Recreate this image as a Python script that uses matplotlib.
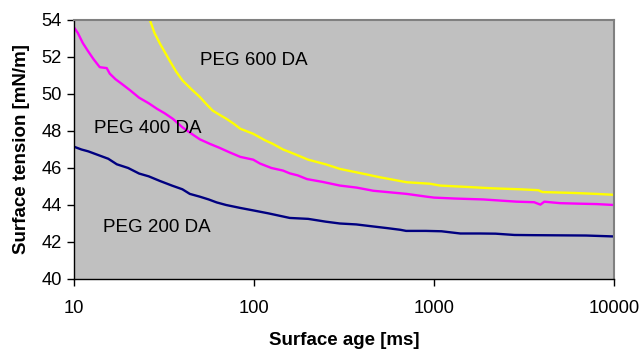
import matplotlib
matplotlib.use("Agg")
import matplotlib.pyplot as plt

plt.rcParams['font.family'] = ['Liberation Sans', 'DejaVu Sans']

# Surface age [ms] and surface tension [mN/m] for each PEG diacrylate
age_200 = [10, 11, 12, 13.9, 15.5, 17.3, 20, 23, 26, 30, 35, 40, 44, 50, 56, 62, 70,
           84, 100, 120, 158, 200, 250, 300, 370, 450, 550, 650, 700, 900, 1100,
           1400, 1800, 2200, 2800, 3500, 5000, 7000, 10000]
st_200 = [47.15, 47.0, 46.9, 46.67, 46.5, 46.2, 46.0, 45.7, 45.55, 45.3, 45.05, 44.85,
          44.6, 44.45, 44.3, 44.14, 44.0, 43.84, 43.7, 43.55, 43.3, 43.25, 43.1, 43.0,
          42.95, 42.85, 42.75, 42.66, 42.6, 42.6, 42.58, 42.46, 42.46, 42.45, 42.38,
          42.37, 42.36, 42.35, 42.3]

age_400 = [10, 10.5, 11.2, 12, 12.8, 13.9, 15.2, 15.8, 17, 18.7, 20.5, 23, 26, 28.9,
           32, 35.5, 40, 45, 50, 57, 64, 73, 84, 99, 108, 125, 145, 158, 175, 197, 240,
           300, 372, 460, 705, 910, 1000, 1300, 1880, 2880, 3600, 3900, 4100, 5000,
           6500, 8000, 10000]
st_400 = [53.6, 53.3, 52.75, 52.3, 51.9, 51.45, 51.4, 51.1, 50.8, 50.5, 50.2, 49.8,
          49.5, 49.2, 48.95, 48.65, 48.2, 47.85, 47.55, 47.3, 47.1, 46.85, 46.6, 46.45,
          46.24, 46.0, 45.86, 45.71, 45.6, 45.4, 45.25, 45.05, 44.94, 44.77, 44.6,
          44.45, 44.4, 44.35, 44.3, 44.18, 44.15, 44.02, 44.18, 44.1, 44.07, 44.05, 44.0]

age_600 = [26.4, 28, 30, 32, 34, 37, 40, 45, 50, 55, 59, 65, 70, 77, 84, 99, 115,
           127, 145, 158, 200, 250, 300, 400, 500, 705, 950, 1080, 1500, 2130, 3000,
           3800, 4000, 6000, 8000, 10000]
st_600 = [54.0, 53.3, 52.73, 52.25, 51.8, 51.2, 50.74, 50.25, 49.84, 49.4, 49.1, 48.85,
          48.67, 48.4, 48.12, 47.85, 47.5, 47.31, 47.0, 46.86, 46.45, 46.2, 45.95,
          45.7, 45.5, 45.23, 45.15, 45.05, 44.98, 44.9, 44.85, 44.8, 44.7, 44.65,
          44.6, 44.55]

series_labels = ["PEG 200 DA", "PEG 400 DA", "PEG 600 DA"]
series_colors = ["#000080", "#FF00FF", "#FFFF00"]

y_ticks = [40, 42, 44, 46, 48, 50, 52, 54]
x_ticks = [10, 100, 1000, 10000]

fig = plt.figure(figsize=(6.41, 3.49), dpi=100)
ax = fig.add_axes([74 / 641, 1 - 279 / 349, 540 / 641, 259 / 349])
ax.set_facecolor("#C0C0C0")

for ages, vals, col in zip([age_200, age_400, age_600], [st_200, st_400, st_600],
                           series_colors):
    ax.plot(ages, vals, color=col, lw=1.7, solid_joinstyle="round")

ax.set_xscale("log")
ax.set_xlim(10, 10000)
ax.set_ylim(40, 54)
ax.set_xticks(x_ticks)
ax.set_xticklabels([str(t) for t in x_ticks])
ax.minorticks_off()
ax.set_yticks(y_ticks)
ax.tick_params(axis="both", labelsize=13.2, length=5, width=1, color="black", direction="out")
ax.tick_params(axis="x", pad=10)
ax.tick_params(axis="y", pad=4)

for side in ("top", "right"):
    ax.spines[side].set_color("#808080")
    ax.spines[side].set_linewidth(1.5)
for side in ("left", "bottom"):
    ax.spines[side].set_color("black")
    ax.spines[side].set_linewidth(1)

ax.set_xlabel("Surface age [ms]", fontsize=13.5, fontweight="bold", labelpad=11)
ax.set_ylabel("Surface tension [mN/m]", fontsize=13.5, fontweight="bold", labelpad=8)

ax.text(100, 51.8, series_labels[2], fontsize=13.5, ha="center", va="center")
ax.text(25.8, 48.14, series_labels[1], fontsize=13.5, ha="center", va="center")
ax.text(28.9, 42.8, series_labels[0], fontsize=13.5, ha="center", va="center")

fig.savefig("out.png", dpi=100)
